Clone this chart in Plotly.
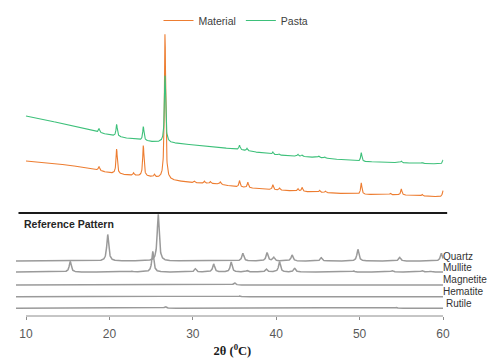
import numpy as np
import plotly.graph_objects as go

# ---------------- data ----------------
# Sample patterns: baseline anchors (2theta, level) and peaks (2theta, height)
pasta_base_x = [10, 12, 15, 18, 20, 22, 25, 27, 30, 35, 40, 45, 50, 55, 59.5, 60]
pasta_base_y = [50, 47, 41, 35, 31, 28, 24.3, 23.5, 21, 17, 11, 8.5, 4.5, 3.3, 2, 2]
pasta_peak_x = [18.75, 20.87, 24.07, 26.67, 35.6, 36.5, 39.6, 40.3, 42.6, 43.1, 45.1, 45.8, 50.2, 55.0, 57.5, 60.0]
pasta_peak_h = [4, 12, 14, 67, 4.5, 2.5, 2.5, 1.5, 2, 1.5, 1.5, 1.2, 9, 1.5, 1, 4]

material_base_x = [10, 12, 15, 18, 20, 22, 25, 27, 30, 33, 35, 40, 45, 50, 55, 59.5, 60]
material_base_y = [37, 35, 33, 29, 25, 23, 21, 18, 15.3, 14, 11.3, 8, 5.7, 3.7, 3, 1.3, 1.3]
material_peak_x = [18.75, 20.87, 22.9, 24.07, 25.4, 26.67, 30.2, 31.4, 32.1, 33.3, 35.6, 36.6, 39.6, 40.4,
                   42.6, 43.1, 45.2, 45.9, 50.2, 53.7, 55.0, 57.5, 60.0]
material_peak_h = [4, 25, 2.5, 31, 2.5, 147, 1.5, 2, 2, 2.5, 6.5, 5.5, 5, 2, 2.5, 4, 2, 1.5, 11.5, 1.5, 6, 1.5, 6]

# Reference patterns: peaks (2theta, relative height)
ref_names = ["Quartz", "Mullite", "Magnetite", "Hematite", "Rutile"]
quartz_x = [19.8, 25.85, 36.0, 38.9, 39.7, 41.9, 45.4, 49.8, 54.8, 59.8]
quartz_h = [26.5, 47, 7.7, 8.3, 3.7, 6, 3.3, 11.7, 3.7, 7.7]
mullite_x = [15.3, 22.7, 25.2, 30.3, 32.5, 34.6, 36.5, 38.8, 40.4, 42.2, 47.7, 49.3, 53.9, 57.5, 58.5]
mullite_h = [10.6, 0.8, 20.6, 3.3, 8, 10, 1.5, 3, 10.3, 3.7, 0.7, 1, 1.5, 1.5, 0.7]
magnetite_x = [29.4, 35.0, 42.8, 56.8]
magnetite_h = [0.6, 2.3, 0.5, 0.6]
hematite_x = [33.2, 35.6, 54.0]
hematite_h = [0.6, 0.8, 0.5]
rutile_x = [26.7, 36.1, 54.4]
rutile_h = [1.7, 0.6, 0.8]

tick_vals = [10, 20, 30, 40, 50, 60]
tick_text = ["10", "20", "30", "40", "50", "60"]

# ---------------- layout constants ----------------
W, H = 491, 358
PX0, PX1 = 26, 443           # pixel position of 2theta 10 and 60
ppu = (PX1 - PX0) / 50.0
XR = [8.5, 61.0]
dom_x = [(PX0 - (10 - XR[0]) * ppu) / W, (PX1 + (XR[1] - 60) * ppu) / W]
AXIS_PX = 316
YR = [-10, AXIS_PX]
dom_y = [(H - (AXIS_PX + 10)) / H, 1.0]

offsets_sample = {"Pasta": 150, "Material": 118}
offsets_ref = {"Quartz": 55, "Mullite": 44, "Magnetite": 31, "Hematite": 19.3, "Rutile": 7.7}


def profile(x, px, ph, w):
    y = np.zeros_like(x)
    for c, h in zip(px, ph):
        y += h / (1.0 + ((x - c) / w) ** 2)
    return y


xs = np.arange(10.0, 60.0001, 0.02)
xr = np.arange(8.8, 60.0001, 0.02)

fig = go.Figure()

mat_y = np.interp(xs, material_base_x, material_base_y) + profile(xs, material_peak_x, material_peak_h, 0.09)
fig.add_trace(go.Scatter(x=xs, y=mat_y + offsets_sample["Material"], mode="lines", name="Material",
                         line=dict(color="#ED7D31", width=1.1)))
pas_y = np.interp(xs, pasta_base_x, pasta_base_y) + profile(xs, pasta_peak_x, pasta_peak_h, 0.09)
fig.add_trace(go.Scatter(x=xs, y=pas_y + offsets_sample["Pasta"], mode="lines", name="Pasta",
                         line=dict(color="#3DC07A", width=1.1)))

ref_data = {
    "Quartz": (quartz_x, quartz_h),
    "Mullite": (mullite_x, mullite_h),
    "Magnetite": (magnetite_x, magnetite_h),
    "Hematite": (hematite_x, hematite_h),
    "Rutile": (rutile_x, rutile_h),
}
for nm in ref_names:
    px, ph = ref_data[nm]
    yy = profile(xr, px, ph, 0.14) + offsets_ref[nm]
    fig.add_trace(go.Scatter(x=xr, y=yy, mode="lines", name=nm, showlegend=False,
                             line=dict(color="#9A9A9A", width=1.5)))

# bottom axis line (only 10..60)
fig.add_shape(type="line", xref="x", yref="y", x0=10, x1=60, y0=0, y1=0,
              line=dict(color="#8C8C8C", width=1))
# separator line
fig.add_shape(type="line", xref="x", yref="y", x0=9.1, x1=60.5, y0=103, y1=103,
              line=dict(color="#1A1A1A", width=2))

fig.add_annotation(x=9.5, y=92, xref="x", yref="y", text="<b>Reference Pattern</b>", showarrow=False,
                   xanchor="left", yanchor="middle", font=dict(family="Liberation Sans, Arial", size=10.5, color="#262626"))
label_y = {"Quartz": 60, "Mullite": 49, "Magnetite": 37, "Hematite": 25, "Rutile": 13}
label_x = {"Quartz": 60.05, "Mullite": 60.05, "Magnetite": 60.05, "Hematite": 60.05, "Rutile": 60.3}
for nm in ref_names:
    fig.add_annotation(x=label_x[nm], y=label_y[nm], xref="x", yref="y", text=nm, showarrow=False,
                       xanchor="left", yanchor="middle", xshift=-2,
                       font=dict(family="Liberation Sans, Arial", size=10, color="#333333"))

fig.update_layout(
    width=W, height=H,
    margin=dict(l=0, r=0, t=0, b=0),
    paper_bgcolor="white", plot_bgcolor="white",
    showlegend=True,
    legend=dict(orientation="h", x=236 / W, xanchor="center", y=1 - 6 / H, yanchor="top",
                font=dict(family="Liberation Sans, Arial", size=10.5, color="#404040"),
                bgcolor="rgba(0,0,0,0)", itemwidth=30, tracegroupgap=0),
    xaxis=dict(domain=dom_x, range=XR, anchor="free", position=(H - AXIS_PX) / H,
               showline=False, showgrid=False, zeroline=False,
               tickmode="array", tickvals=tick_vals, ticktext=tick_text,
               ticks="outside", ticklen=3, tickcolor="#8C8C8C", tickwidth=1,
               ticklabelstandoff=4,
               tickfont=dict(family="Liberation Sans, Arial", size=12, color="#595959"),
               title=dict(text="<b>2θ (<sup>0</sup>C)</b>", standoff=7,
                          font=dict(family="Liberation Serif, Times New Roman", size=12.5, color="#1A1A1A"))),
    yaxis=dict(domain=dom_y, range=YR, visible=False),
)

fig.write_html("out.html", config={"displayModeBar": False},
               post_script="document.body.style.margin='0';document.body.style.overflow='hidden';")
